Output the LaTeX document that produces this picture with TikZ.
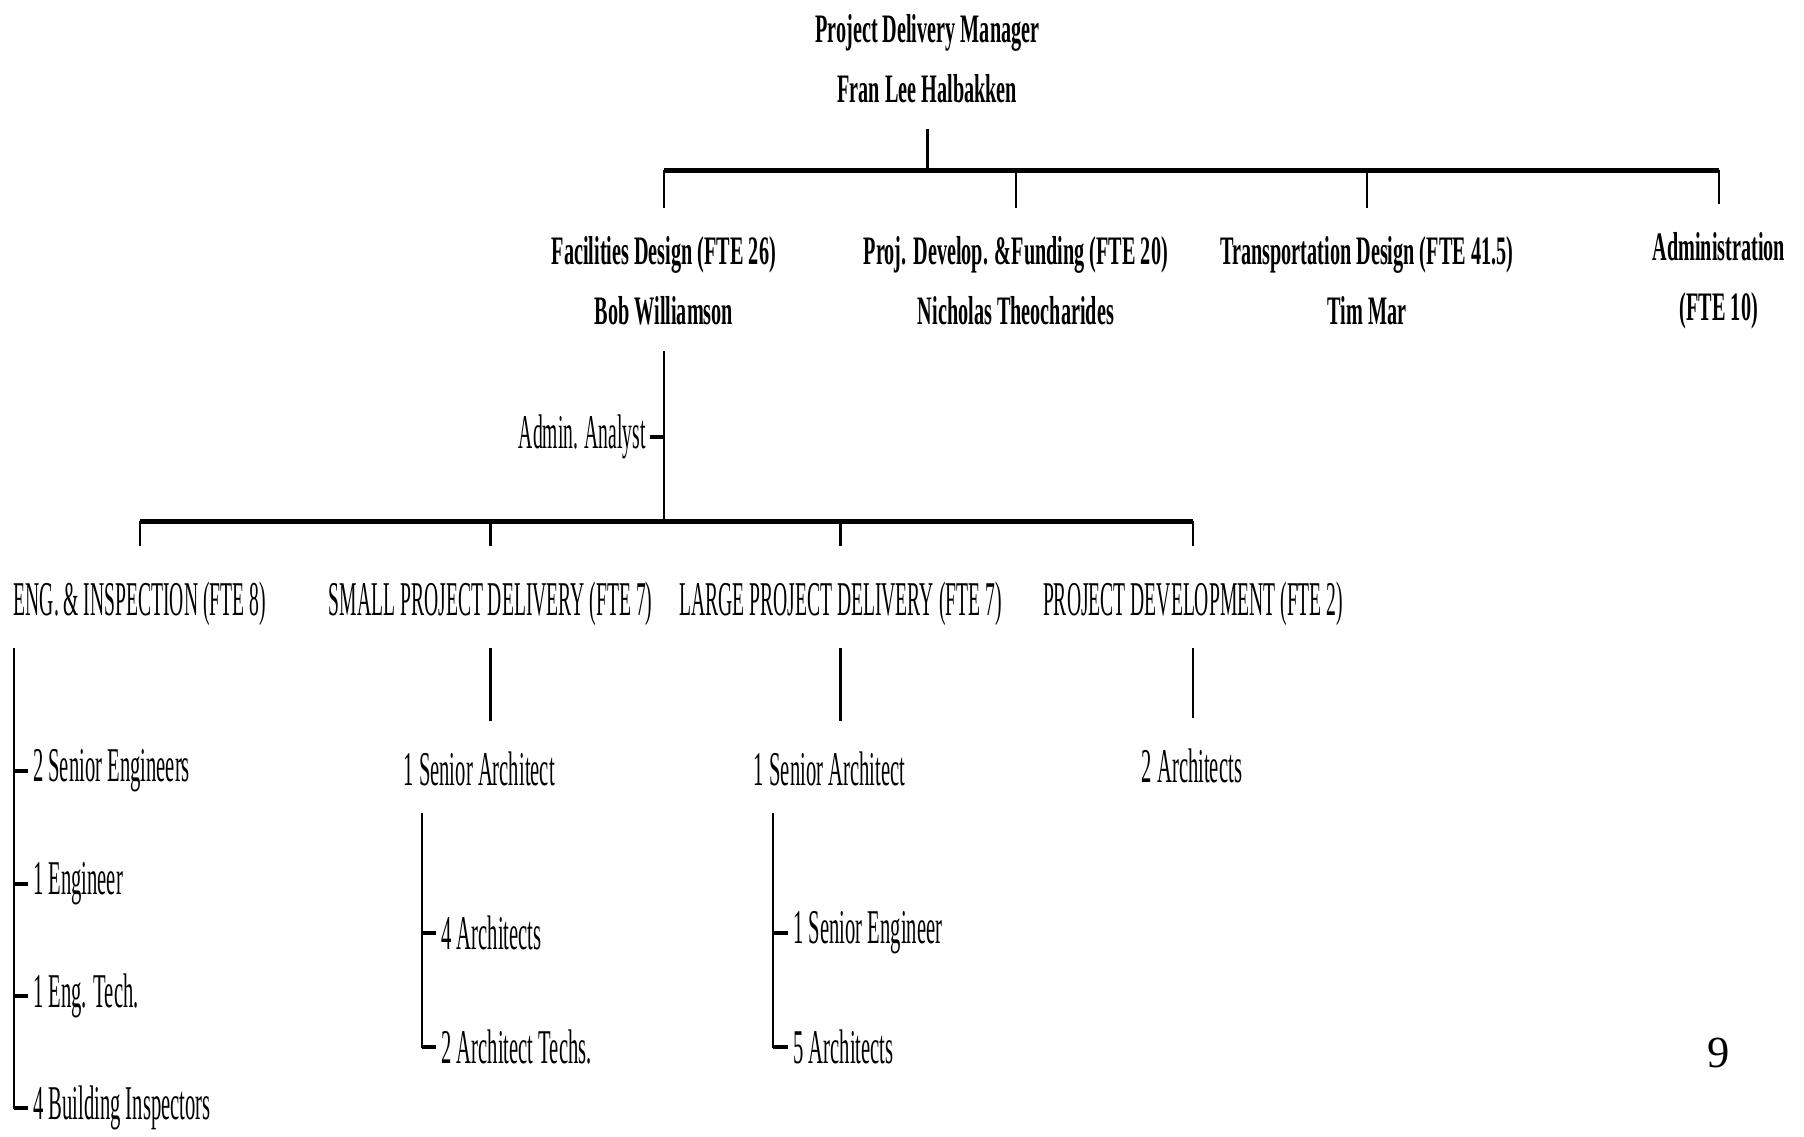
\documentclass[tikz,border=0pt]{standalone}
\usepackage{fontspec}
\setmainfont{Liberation Serif}
\newfontfamily\headfont[FakeStretch=0.5]{Liberation Serif}
\newfontfamily\unitfont[FakeStretch=0.404]{Liberation Serif}
\newfontfamily\bodyfont[FakeStretch=0.425]{Liberation Serif}
\usepackage{tikz}
\usetikzlibrary{calc}

\begin{document}
\begin{tikzpicture}[
  x=1cm,
  y=1cm,
  head/.style={font=\headfont\bfseries\fontsize{10}{15}\selectfont,
    align=center, inner sep=0pt},
  unit/.style={font=\unitfont\fontsize{12}{14}\selectfont, inner sep=0pt},
  staff/.style={font=\bodyfont\fontsize{12}{14}\selectfont,
    inner xsep=0.4mm, inner ysep=0pt, anchor=west},
  bar/.style={line width=1.2pt, draw=black},
  link/.style={line width=0.6pt, draw=black},
  tick/.style={line width=1pt, draw=black}
]

\useasboundingbox (0,0) rectangle (15.68,9.88);

\node[head] (pdm) at (8.06,9.37) {Project Delivery Manager\\Fran Lee Halbakken};
\node[head] (fac) at (5.77,7.44) {Facilities Design (FTE 26)\\Bob Williamson};
\node[head] (pdf) at (8.83,7.44) {Proj. Develop. \&Funding (FTE 20)\\Nicholas Theocharides};
\node[head] (trd) at (11.88,7.44) {Transportation Design (FTE 41.5)\\Tim Mar};
\node[head] (adm) at (14.94,7.44) {Administration\\(FTE 10)};

\coordinate (hub) at (8.06,8.40);
\draw[link] (hub) -- ([yshift=-2.2mm]pdm.south);
\draw[bar] (fac |- hub) -- (adm |- hub);
\foreach \d in {fac,pdf,trd,adm}
  \draw[link] (\d |- hub) -- ([yshift=2.4mm]\d.north);

\node[unit, anchor=east] (ana) at (5.62,6.08) {Admin. Analyst};
\coordinate (hub2) at (5.77,5.35);
\draw[link] ([yshift=-2.2mm]fac.south) -- (hub2);
\draw[tick] ([xshift=0.3mm]ana.east) -- (hub2 |- ana.east);

\node[unit] (eng) at (1.215,4.63) {ENG. \& INSPECTION (FTE 8)};
\node[unit] (spd) at (4.265,4.63) {SMALL PROJECT DELIVERY (FTE 7)};
\node[unit] (lpd) at (7.305,4.63) {LARGE PROJECT DELIVERY (FTE 7)};
\node[unit] (pdv) at (10.37,4.63) {PROJECT DEVELOPMENT (FTE 2)};

\draw[bar] (eng |- hub2) -- (pdv |- hub2);
\foreach \u in {eng,spd,lpd,pdv}
  \draw[link] (\u |- hub2) -- ([yshift=3.1mm]\u.north);

\node[staff] (e1) at (0.24,3.18) {2 Senior Engineers};
\node[staff] (e2) at (0.24,2.20) {1 Engineer};
\node[staff] (e3) at (0.24,1.22) {1 Eng. Tech.};
\node[staff] (e4) at (0.24,0.25) {4 Building Inspectors};
\coordinate (engtop) at (0.12,4.25);
\draw[link] (engtop) |- (e4.west);
\foreach \s in {e1,e2,e3,e4}
  \draw[tick] (engtop |- \s.west) -- (\s.west);

\node[staff, anchor=center] (sa1) at (4.165,3.20) {1 Senior Architect};
\node[staff] (s1) at (3.79,1.77) {4 Architects};
\node[staff] (s2) at (3.79,0.78) {2 Architect Techs.};
\draw[link] ($(spd |- sa1.north)+(0,0.26)$) -- ([yshift=-1.8mm]spd.south);
\coordinate (satop) at (3.67,2.81);
\draw[link] (satop) |- (s2.west);
\foreach \s in {s1,s2}
  \draw[tick] (satop |- \s.west) -- (\s.west);

\node[staff, anchor=center] (sa2) at (7.21,3.20) {1 Senior Architect};
\node[staff] (l1) at (6.85,1.77) {1 Senior Engineer};
\node[staff] (l2) at (6.85,0.78) {5 Architects};
\draw[link] ($(lpd |- sa2.north)+(0,0.26)$) -- ([yshift=-1.8mm]lpd.south);
\coordinate (latop) at (6.72,2.81);
\draw[link] (latop) |- (l2.west);
\foreach \s in {l1,l2}
  \draw[tick] (latop |- \s.west) -- (\s.west);

\node[staff, anchor=center] (pa) at (10.36,3.22) {2 Architects};
\draw[link] ($(pdv |- pa.north)+(0,0.26)$) -- ([yshift=-1.8mm]pdv.south);

\node[font=\fontsize{11}{13}\selectfont, inner sep=0pt] (pg) at (14.94,0.73) {9};

\end{tikzpicture}
\end{document}
